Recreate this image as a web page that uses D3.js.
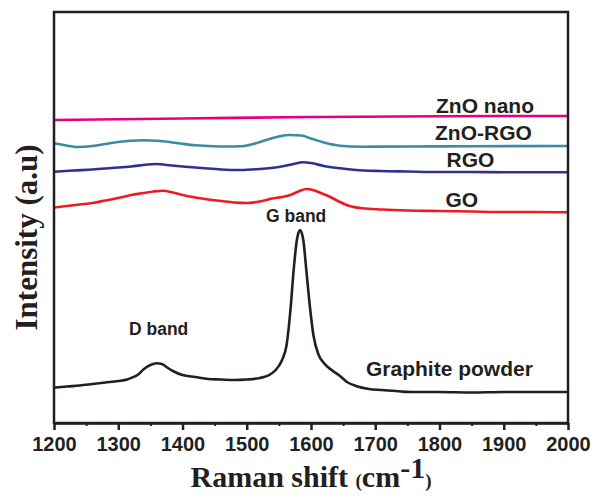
<!DOCTYPE html>
<html>
<head>
<meta charset="utf-8">
<script src="https://cdn.jsdelivr.net/npm/d3@7/dist/d3.min.js"></script>
<style>
  html, body { margin: 0; padding: 0; background: #fff; }
  svg { display: block; }
</style>
</head>
<body>
<svg id="chart" width="593" height="496"></svg>
<script>
// ---- Data (Raman shift in cm^-1, intensity in arbitrary units with vertical offsets) ----
const xTicks = [1200, 1300, 1400, 1500, 1600, 1700, 1800, 1900, 2000];
const minorTicks = [1250, 1350, 1450, 1550, 1650, 1750, 1850, 1950];

const graphiteShift = [1200,1220,1240,1260,1280,1300,1314,1320,1330,1340,1350,1360,1368,1375,1385,1400,1420,1440,1460,1480,1500,1520,1535,1545,1555,1562,1568,1573,1578,1583,1588,1593,1598,1604,1612,1620,1632,1645,1656,1670,1690,1710,1740,1760,1800,1850,1900,1950,2000];
const graphiteVal   = [35.3,36.5,37.5,39,40.5,42,43.5,45,48,54,58,59.7,59,56,52,48,46,44,43.5,43,43.5,45,48,53,63,78,113,153,183,193,183,151,118,87,68,60,53,47,41,37,34,33,31.5,31,31,30.5,31,31,31];

const goShift = [1200,1220,1240,1260,1280,1300,1320,1340,1355,1370,1385,1400,1420,1440,1460,1480,1500,1520,1540,1555,1570,1582,1593,1603,1615,1630,1645,1660,1680,1710,1750,1800,1850,1900,1950,2000];
const goVal   = [215.5,217,218.5,220,222.5,225,228,230,231.5,232.3,230.5,228,225.5,223.5,222,220.5,220,221.5,224.5,226,228.5,232,234,233,230,226,221,217,214.7,213.5,212.5,212,211.5,211,211,210.7];

const rgoShift = [1200,1230,1260,1290,1320,1345,1360,1375,1400,1430,1460,1490,1520,1550,1570,1588,1600,1620,1645,1670,1707,1750,1800,1850,1900,1950,2000];
const rgoVal   = [251.3,252.5,253.5,255,256.5,258.5,259,258,256.5,255,253.5,253,254,256,258.5,260.8,260,257,254.7,253,252,251.5,251,251,250.7,250.7,250.7];

const znoRgoShift = [1200,1215,1238,1260,1280,1300,1320,1340,1360,1380,1400,1420,1448,1470,1490,1510,1530,1550,1567,1585,1600,1620,1645,1680,1750,1850,2000];
const znoRgoVal   = [279.7,278,276,277,279,281,282.3,282.7,282.2,281,279.2,277.7,276.7,276.5,276.7,279,283,286.5,288,287.5,284.5,280.5,277.3,276.3,276.5,276.8,277];

const znoNanoShift = [1200,1400,1600,1800,2000];
const znoNanoVal   = [303,304.5,306,306.8,307];

const seriesNames  = ["Graphite powder", "GO", "RGO", "ZnO-RGO", "ZnO nano"];
const seriesColors = ["#231f20", "#ed1c24", "#2e3192", "#3b8ba2", "#e6007e"];

// ---- Layout ----
const svg = d3.select("#chart");
const mLeft = 54, mRight = 568, mTop = 12, mBottom = 423;
const x = d3.scaleLinear().domain([1200, 2000]).range([mLeft, mRight]);
const y = d3.scaleLinear().domain([0, 411]).range([mBottom, mTop]);

const series = [
  {shift: graphiteShift, val: graphiteVal},
  {shift: goShift, val: goVal},
  {shift: rgoShift, val: rgoVal},
  {shift: znoRgoShift, val: znoRgoVal},
  {shift: znoNanoShift, val: znoNanoVal}
];

const line = d3.line()
  .x(d => x(d[0]))
  .y(d => y(d[1]))
  .curve(d3.curveMonotoneX);

series.forEach((s, i) => {
  const pts = s.shift.map((v, j) => [v, s.val[j]]);
  svg.append("path")
    .attr("d", line(pts))
    .attr("fill", "none")
    .attr("stroke", seriesColors[i])
    .attr("stroke-width", 2.6)
    .attr("stroke-linejoin", "round");
});

// ---- Frame ----
const axisColor = "#231f20";
svg.append("rect")
  .attr("x", mLeft).attr("y", mTop)
  .attr("width", mRight - mLeft).attr("height", mBottom - mTop)
  .attr("fill", "none").attr("stroke", axisColor).attr("stroke-width", 2.5);

// minor ticks
svg.append("g")
  .attr("transform", `translate(0,${mBottom})`)
  .call(d3.axisBottom(x).tickValues(minorTicks).tickSize(3).tickFormat(""))
  .call(g => g.select(".domain").remove())
  .call(g => g.selectAll("line").attr("stroke", axisColor).attr("stroke-width", 2));

// major ticks
const xAxis = svg.append("g")
  .attr("transform", `translate(0,${mBottom})`)
  .call(d3.axisBottom(x).tickValues(xTicks).tickSize(7).tickSizeOuter(0).tickPadding(7).tickFormat(d3.format("d")));
xAxis.select(".domain").attr("stroke", axisColor).attr("stroke-width", 2.5);
xAxis.selectAll(".tick line").attr("stroke", axisColor).attr("stroke-width", 2.5);
xAxis.selectAll(".tick text")
  .attr("fill", axisColor)
  .style("font-family", "'Liberation Sans', Arial, sans-serif")
  .style("font-weight", "bold")
  .style("font-size", "20px");

// ---- Axis titles ----
const xt = svg.append("text")
  .attr("x", (mLeft + mRight) / 2)
  .attr("y", 487)
  .attr("text-anchor", "middle")
  .attr("fill", axisColor)
  .style("font-family", "'Liberation Serif', 'Times New Roman', serif")
  .style("font-weight", "bold");
xt.append("tspan").style("font-size", "30px").text("Raman shift ");
xt.append("tspan").style("font-size", "19px").text("(");
xt.append("tspan").style("font-size", "30px").text("cm");
xt.append("tspan").style("font-size", "30px").attr("dy", -9).text("-1");
xt.append("tspan").style("font-size", "19px").attr("dy", 9).text(")");

svg.append("text")
  .attr("transform", "translate(37,237.5) rotate(-90)")
  .attr("text-anchor", "middle")
  .attr("fill", axisColor)
  .style("font-family", "'Liberation Serif', 'Times New Roman', serif")
  .style("font-weight", "bold")
  .style("font-size", "31px")
  .text("Intensity (a.u)");

// ---- Series labels ----
const labels = [
  {text: "ZnO nano", x: 436, y: 112.5, size: 21},
  {text: "ZnO-RGO", x: 435, y: 140, size: 21},
  {text: "RGO", x: 446.5, y: 167, size: 21},
  {text: "GO", x: 445.5, y: 207, size: 21},
  {text: "G band", x: 266, y: 221.5, size: 17.5},
  {text: "D band", x: 129, y: 335, size: 17.5},
  {text: "Graphite powder", x: 366, y: 376, size: 21}
];
svg.selectAll("text.lbl")
  .data(labels)
  .enter().append("text")
  .attr("class", "lbl")
  .attr("x", d => d.x)
  .attr("y", d => d.y)
  .attr("fill", axisColor)
  .style("font-family", "'Liberation Sans', Arial, sans-serif")
  .style("font-weight", "bold")
  .style("font-size", d => d.size + "px")
  .text(d => d.text);
</script>
</body>
</html>
